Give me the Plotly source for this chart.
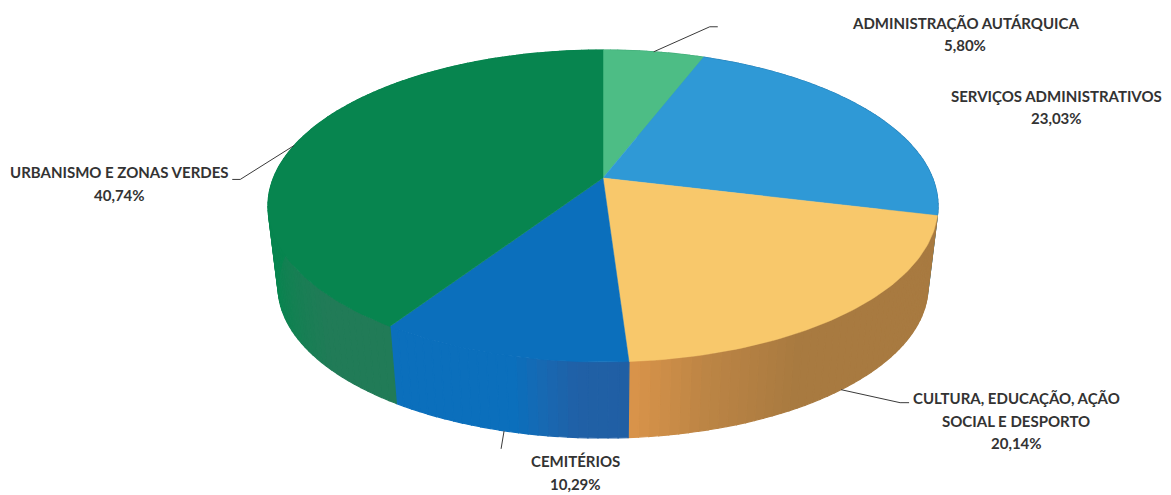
import math
import plotly.graph_objects as go

# ---- data ----
categories = ["ADMINISTRAÇÃO AUTÁRQUICA", "SERVIÇOS ADMINISTRATIVOS",
              "CULTURA, EDUCAÇÃO, AÇÃO SOCIAL E DESPORTO", "CEMITÉRIOS",
              "URBANISMO E ZONAS VERDES"]
shares = [5.80, 23.03, 20.14, 10.29, 40.74]
share_labels = ["5,80%", "23,03%", "20,14%", "10,29%", "40,74%"]

# ---- styles ----
top_colors = ["#4DBD85", "#2F99D6", "#F8C86B", "#0B6FBC", "#07854F"]
side_stops = [
    [(0, "#3FA876"), (1, "#3FA876")],
    [(0, "#2A80B5"), (1, "#2A80B5")],
    [(0, "#A87A40"), (0.64, "#A87A40"), (0.85, "#BD8545"), (1, "#DA944A")],
    [(0, "#205FA4"), (0.20, "#2060A6"), (0.34, "#1769B2"), (0.45, "#0B6FBC"), (1, "#0B6FBC")],
    [(0, "#217B57"), (0.10, "#217B57"), (0.22, "#0F8251"), (0.30, "#07854F"), (1, "#07854F")],
]
TEXT = "#333333"
FONT = "Lato"
FS = 15

# projection of the tilted disc
CX, CY = 603.0, 178.0
A, B, K = 329.6, 151.0, 0.1795
LOW_SCALE, LOW_DY = 0.97, 81.5


def project(deg, lower=False):
    t = math.radians(deg)
    u, v = math.sin(t), math.cos(t)
    w = 1 + K * v
    s = LOW_SCALE if lower else 1.0
    dy = LOW_DY if lower else 0.0
    return CX + s * A * u / w, CY + dy - s * B * v / w


def hex_rgb(h):
    return tuple(int(h[i:i + 2], 16) for i in (1, 3, 5))


def blend(stops, f):
    for (f0, c0), (f1, c1) in zip(stops, stops[1:]):
        if f <= f1:
            r = 0 if f1 == f0 else (f - f0) / (f1 - f0)
            a, b = hex_rgb(c0), hex_rgb(c1)
            return "rgb(%d,%d,%d)" % tuple(round(a[i] + (b[i] - a[i]) * r) for i in range(3))
    return stops[-1][1]


total = sum(shares)
edges = [0.0]
for s_ in shares:
    edges.append(edges[-1] + s_ / total * 360)

fig = go.Figure()


def poly(xs, ys, color):
    fig.add_trace(go.Scatter(x=xs, y=ys, mode="lines", fill="toself", fillcolor=color,
                             line=dict(color=color, width=1.2), hoverinfo="skip", showlegend=False))


# side wall
BAND = 1.5
for i in range(len(shares)):
    a0, a1 = edges[i], edges[i + 1]
    n = max(1, round((a1 - a0) / BAND))
    for j in range(n):
        d0 = a0 + (a1 - a0) * j / n
        d1 = a0 + (a1 - a0) * (j + 1) / n
        top = [project(d0), project(d1)]
        low = [project(d1, True), project(d0, True)]
        pts = top + low + [top[0]]
        poly([p[0] for p in pts], [p[1] for p in pts], blend(side_stops[i], (j + 0.5) / n))

# top face
for i in range(len(shares)):
    a0, a1 = edges[i], edges[i + 1]
    n = max(2, round((a1 - a0) / 1.0))
    pts = [(CX, CY)] + [project(a0 + (a1 - a0) * j / n) for j in range(n + 1)] + [(CX, CY)]
    fig.add_trace(go.Scatter(x=[p[0] for p in pts], y=[p[1] for p in pts], mode="lines",
                             fill="toself", fillcolor=top_colors[i],
                             line=dict(color=top_colors[i], width=0.5),
                             hoverinfo="skip", showlegend=False))

# leader lines: start on the rim near each slice's mid angle
mids = [(edges[i] + edges[i + 1]) / 2 for i in range(len(shares))]
leaders = {
    0: (False, 0.0, [(56, -25), (64, -25)]),
    2: (True, 0.0, [(59, 13), (68, 13)]),
    3: (True, 0.0, [(-3, 18)]),
    4: (False, -3.7, [(-54, 34), (-62, 34)]),
}
for i, (lower, shift, offs) in leaders.items():
    x0, y0 = project(mids[i] + shift, lower)
    fig.add_trace(go.Scatter(x=[x0] + [x0 + o[0] for o in offs], y=[y0] + [y0 + o[1] for o in offs],
                             mode="lines", line=dict(color="#3A3A3A", width=1),
                             hoverinfo="skip", showlegend=False))

# labels
label_lines = [
    [(categories[0], 965, 23), (share_labels[0], 965, 45)],
    [(categories[1], 1056.5, 96), (share_labels[1], 1056.5, 118)],
    [("CULTURA, EDUCAÇÃO, AÇÃO", 1016, 398), ("SOCIAL E DESPORTO", 1016, 421), (share_labels[2], 1016, 443)],
    [(categories[3], 575, 461), (share_labels[3], 575, 484)],
    [(categories[4], 119, 172), (share_labels[4], 119, 195)],
]
annotations = []
for group in label_lines:
    for text, x, y in group:
        annotations.append(dict(x=x, y=y, xref="x", yref="y", text="<b>%s</b>" % text, showarrow=False,
                                xanchor="center", yanchor="middle",
                                font=dict(family=FONT, size=FS, color=TEXT)))

fig.update_layout(width=1171, height=495, margin=dict(l=0, r=0, t=0, b=0),
                  paper_bgcolor="white", plot_bgcolor="white", showlegend=False,
                  annotations=annotations,
                  xaxis=dict(range=[0, 1171], visible=False, fixedrange=True),
                  yaxis=dict(range=[495, 0], visible=False, fixedrange=True))

fig.write_html("out.html", config={"displayModeBar": False},
               post_script="document.body.style.margin='0';")
